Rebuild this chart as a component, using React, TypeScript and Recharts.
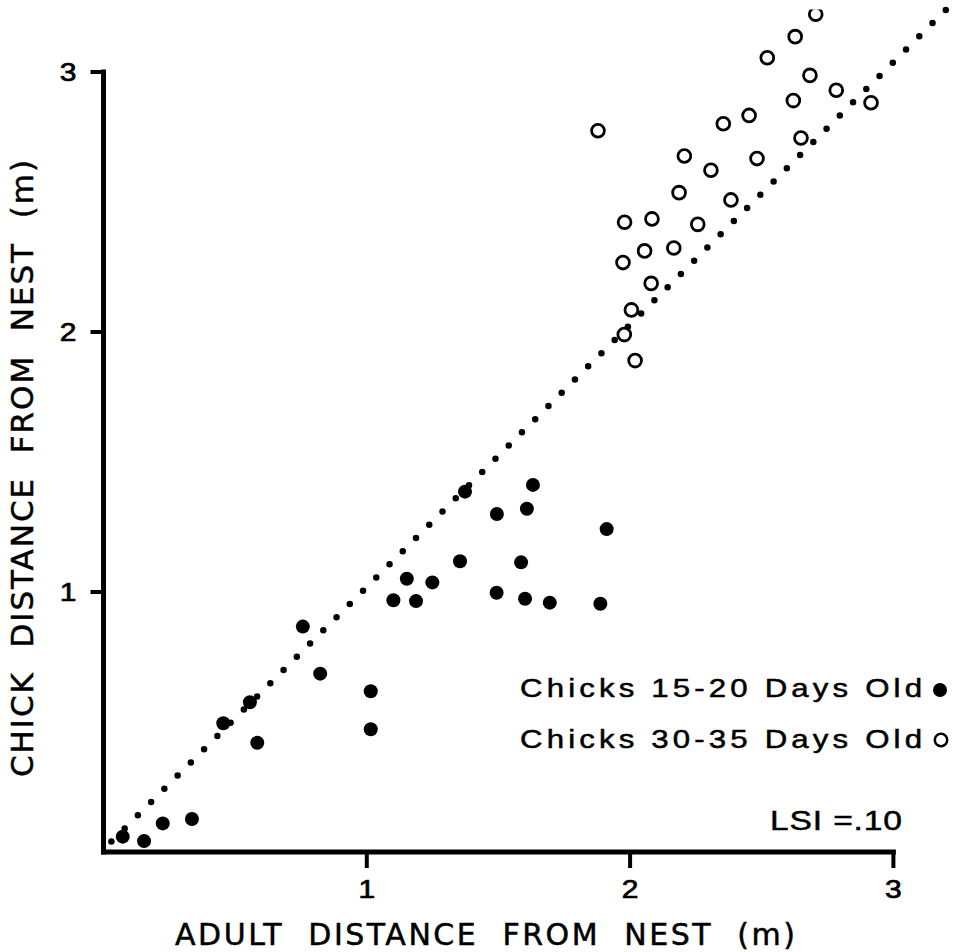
import React from 'react';
import { ScatterChart, Scatter, XAxis, YAxis, ReferenceLine, Legend, Customized } from 'recharts';

// chicks 15-20 days old (filled dots)
const youngAdult = [0.073, 0.154, 0.225, 0.336, 0.455, 0.556, 0.584, 0.757, 0.823, 1.015, 1.015, 1.101, 1.152, 1.187, 1.249, 1.354, 1.373, 1.631, 1.494, 1.608, 1.911, 1.586, 1.493, 1.601, 1.695, 1.887];
const youngChick = [0.059, 0.042, 0.110, 0.127, 0.495, 0.576, 0.420, 0.867, 0.686, 0.618, 0.472, 0.968, 1.051, 0.965, 1.037, 1.118, 1.386, 1.412, 1.300, 1.320, 1.242, 1.114, 0.997, 0.974, 0.959, 0.955];

// chicks 30-35 days old (open circles)
const olderAdult = [2.705, 2.627, 2.521, 2.683, 2.783, 2.915, 2.620, 2.452, 2.354, 1.878, 2.649, 2.206, 2.482, 2.307, 2.186, 2.383, 1.979, 2.083, 2.257, 2.055, 2.166, 1.973, 2.080, 2.005, 1.978, 2.019];
const olderChick = [3.222, 3.136, 3.055, 2.987, 2.930, 2.882, 2.890, 2.833, 2.801, 2.774, 2.746, 2.677, 2.667, 2.622, 2.536, 2.508, 2.422, 2.435, 2.414, 2.312, 2.323, 2.267, 2.187, 2.085, 1.990, 1.890];

// dotted line (adult = chick)
const fitAdult = [0.03, 3.2];
const fitChick = [0.04, 3.24];

const axisTicks = [1, 2, 3];
const seriesNames = ['Chicks 15-20 Days Old', 'Chicks 30-35 Days Old'];

const FONT = '"Liberation Sans", Arial, sans-serif';
const TITLE_FONT = '"DejaVu Sans", sans-serif';
const WIDE = 1.2; // the printed type is a wide grotesque

const toPoints = (xs: number[], ys: number[]) => xs.map((x, i) => ({ x, y: ys[i] }));

const youngData = toPoints(youngAdult, youngChick);
const olderData = toPoints(olderAdult, olderChick);
const fitSegment = toPoints(fitAdult, fitChick);

const FilledDot = (props: any) => <circle cx={props.cx} cy={props.cy} r={7} fill="#000" />;
const OpenDot = (props: any) => (
  <circle cx={props.cx} cy={props.cy} r={6.4} fill="none" stroke="#000" strokeWidth={2.8} />
);

const XTick = (props: any) => (
  <g transform={`translate(${props.x},${props.y}) scale(${WIDE},1)`}>
    <text textAnchor="middle" dy="0.72em" fontSize={25} fontFamily={FONT} fill="#000" stroke="#000" strokeWidth={0.7}>
      {props.payload.value}
    </text>
  </g>
);

const YTick = (props: any) => (
  <g transform={`translate(${props.x},${props.y}) scale(${WIDE},1)`}>
    <text textAnchor="end" dy="0.36em" fontSize={25} fontFamily={FONT} fill="#000" stroke="#000" strokeWidth={0.7}>
      {props.payload.value}
    </text>
  </g>
);

const renderLegend = (props: any) => {
  const { payload } = props;
  return (
    <svg width={459} height={100} style={{ display: 'block' }}>
      {(payload || []).map((entry: any, i: number) => {
        const base = 37 + i * 51;
        const open = entry.value === seriesNames[1];
        return (
          <g key={entry.value}>
            <g transform={`translate(20,${base}) scale(${WIDE},1)`}>
              <text fontSize={26} fontFamily={FONT} fill="#000" stroke="#000" strokeWidth={0.5}
                textLength={402 / WIDE} lengthAdjust="spacing">
                {entry.value}
              </text>
            </g>
            {open
              ? <circle cx={441} cy={base - 8} r={6.2} fill="none" stroke="#000" strokeWidth={2.5} />
              : <circle cx={440} cy={base - 7} r={7} fill="#000" />}
          </g>
        );
      })}
    </svg>
  );
};

const Titles = () => (
  <g fontFamily={TITLE_FONT} fill="#000" stroke="#000" strokeWidth={0.5}>
    <text x={175} y={945} fontSize={30} textLength={620} lengthAdjust="spacing" style={{ whiteSpace: 'pre' }}>
      ADULT  DISTANCE  FROM  NEST  (m)
    </text>
    <text transform="translate(33,777) rotate(-90)" fontSize={31} textLength={617} lengthAdjust="spacing"
      style={{ whiteSpace: 'pre' }}>
      CHICK  DISTANCE  FROM  NEST  (m)
    </text>
    <g transform={`translate(770,830) scale(${WIDE},1)`}>
      <text fontFamily={FONT} fontSize={28} textLength={132 / WIDE} lengthAdjust="spacing">
        LSI =.10
      </text>
    </g>
  </g>
);

export default function App() {
  return (
    <div style={{ position: 'absolute', left: 0, top: 0, background: '#fff' }}>
      <ScatterChart width={959} height={952} margin={{ top: 9.6, right: 12.94, bottom: 40, left: 23.5 }}>
        <XAxis type="number" dataKey="x" domain={[0, 3.2]} ticks={axisTicks} allowDataOverflow
          axisLine={false} tickLine={{ stroke: '#000', strokeWidth: 4 }} tickSize={16} tickMargin={12}
          tick={XTick} height={60} />
        <YAxis type="number" dataKey="y" domain={[0, 3.24]} ticks={axisTicks} allowDataOverflow
          axisLine={false} tickLine={{ stroke: '#000', strokeWidth: 4 }} tickSize={13} tickMargin={14}
          tick={YTick} width={80} />
        <ReferenceLine segment={[{ x: 0, y: 0 }, { x: 0, y: 3 }]} stroke="#000" strokeWidth={5}
          strokeLinecap="square" ifOverflow="visible" />
        <ReferenceLine segment={[{ x: 0, y: 0 }, { x: 3, y: 0 }]} stroke="#000" strokeWidth={5}
          strokeLinecap="square" ifOverflow="visible" />
        <ReferenceLine segment={fitSegment} stroke="#000" strokeWidth={6.5} strokeDasharray="0 18.7"
          strokeLinecap="round" ifOverflow="visible" />
        <Scatter name={seriesNames[0]} data={youngData} fill="#000" shape={FilledDot} isAnimationActive={false} />
        <Scatter name={seriesNames[1]} data={olderData} fill="#000" shape={OpenDot} isAnimationActive={false} />
        <Legend layout="horizontal" verticalAlign="middle" align="center" width={459} height={100}
          wrapperStyle={{ left: 500, top: 660 }} content={renderLegend} />
        <Customized component={Titles} />
      </ScatterChart>
    </div>
  );
}
